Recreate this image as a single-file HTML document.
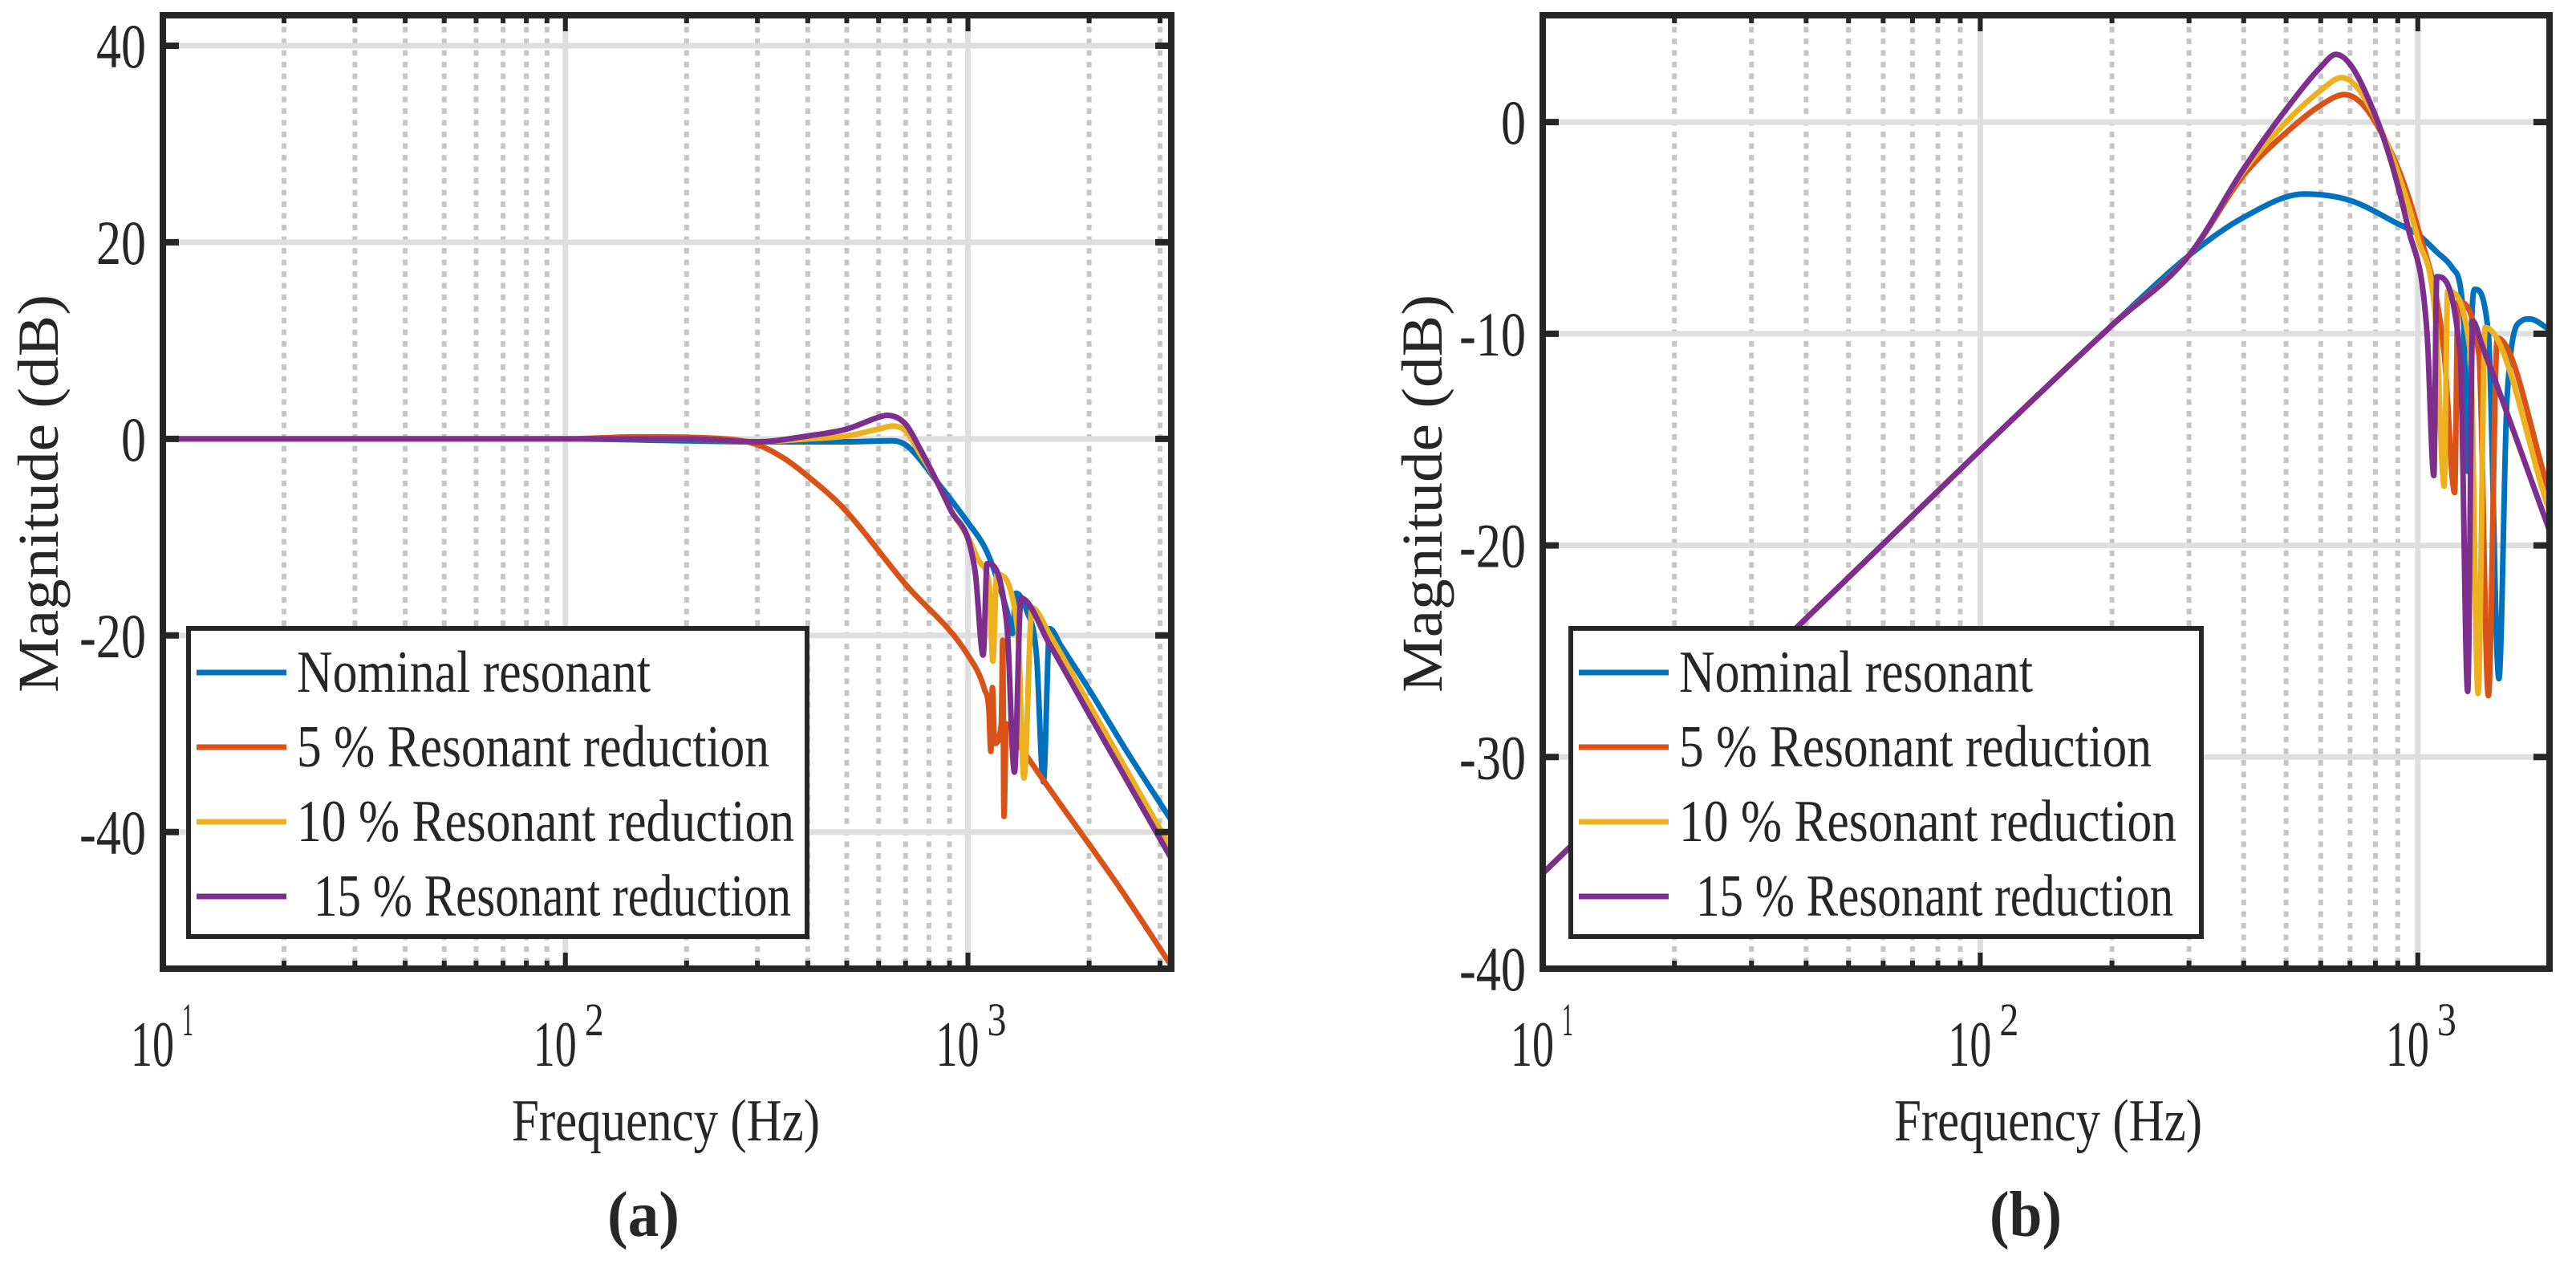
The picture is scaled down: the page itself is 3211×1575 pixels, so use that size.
<!DOCTYPE html>
<html><head><meta charset="utf-8"><style>
html,body{margin:0;padding:0;background:#fff;}
svg{display:block;}
text{font-family:"Liberation Serif",serif;fill:#262626;}
</style></head><body>
<svg id="fig" width="3211" height="1575" viewBox="0 0 3211 1575" xmlns="http://www.w3.org/2000/svg"></svg>
<script>
// ---------- Panel (a) data ----------
const aNomF = [10,100,200,300,500,650,700,750,836,900,1000,1100,1158,1250,1290,1316,1400,1480,1540,1596,1700,2000,2500,3200];
const aNomV = [0,0,-0.2,-0.3,-0.3,-0.2,-0.6,-1.8,-4.3,-6,-8.5,-11,-13.2,-17.5,-19.8,-15.7,-17.5,-22,-34.9,-19.3,-21,-25.5,-32,-38.8];
const aR5F = [10,100,150,250,300,350,400,484,700,1000,1100,1127,1140,1150,1165,1210,1220,1229,1245,1335,2413,3200];
const aR5V = [0,0,0.2,0,-0.6,-2,-3.8,-6.8,-14.8,-22,-25.5,-27.5,-31.8,-25.3,-31,-29,-20.5,-38.4,-29,-31,-46,-53.6];
const aR10F = [10,200,300,400,500,600,650,700,760,836,900,1000,1072,1130,1153,1180,1330,1378,1443,1600,2000,3200];
const aR10V = [0,0,-0.3,0,0.3,1,1.3,0.8,-1.5,-4.3,-7,-10,-12.6,-15,-22.6,-13.8,-19.5,-34.5,-17.2,-20,-27,-41.7];
const aR15F = [10,200,300,400,500,600,630,700,760,836,900,1042,1091,1116,1250,1305,1354,1600,2000,3200];
const aR15V = [0,0,-0.3,0.3,1,2.2,2.4,1.5,-1,-4.3,-7,-13.5,-22,-12.7,-19,-33.9,-16.2,-21,-28,-42.7];
// ---------- Panel (b) data ----------
const bNomF = [10,100,200,300,400,550,700,900,1000,1100,1200,1270,1300,1330,1350,1450,1532,1600,1724,1800,2000];
const bNomV = [-35.5,-15.5,-9.6,-6.3,-4.5,-3.4,-3.7,-4.8,-5.3,-6.1,-6.9,-9,-16.5,-9,-7.9,-10,-26.3,-13,-9.4,-9.3,-9.8];
const bR5F = [10,100,200,300,400,500,600,680,800,1000,1150,1214,1235,1380,1450,1520,2000];
const bR5V = [-35.5,-15.5,-9.6,-6.3,-2.5,-0.5,0.8,1.3,0,-5,-11,-17.5,-8.5,-11,-27.1,-10.2,-17.5];
const bR10F = [10,100,200,300,400,500,600,670,800,1000,1100,1149,1170,1320,1373,1426,2000];
const bR10V = [-35.5,-15.5,-9.6,-6.3,-2.3,0,1.5,2.1,0.2,-5.5,-9.5,-17.2,-8,-11,-27,-9.7,-18.4];
const bR15F = [10,100,200,300,400,500,600,650,800,950,1050,1088,1105,1250,1300,1335,1400,2000];
const bR15V = [-35.5,-15.5,-9.6,-6.3,-2.2,0.6,2.6,3.2,0.3,-5,-10,-16.7,-7.3,-11,-26.9,-9.4,-10.5,-19.3];
const legendLabels = ["Nominal resonant","5 % Resonant reduction","10 % Resonant reduction"," 15 % Resonant reduction"];
const aYTicks = [40,20,0,-20,-40];
const bYTicks = [0,-10,-20,-30,-40];

const colors = ["#0072BD","#D95319","#EDB120","#7E2F8E"];
const NS = "http://www.w3.org/2000/svg";
const fig = document.getElementById('fig');
function mk(tag, attrs, parent){const e=document.createElementNS(NS,tag);for(const k in attrs)e.setAttribute(k,attrs[k]);(parent||fig).appendChild(e);return e;}

// monotone cubic (Fritsch-Carlson) path through screen points
function monoPath(xs, ys){
  const n=xs.length; const d=[], m=[];
  for(let i=0;i<n-1;i++) d.push((ys[i+1]-ys[i])/(xs[i+1]-xs[i]));
  m[0]=d[0]; m[n-1]=d[n-2];
  for(let i=1;i<n-1;i++){ m[i]=(d[i-1]*d[i]<=0)?0:(d[i-1]+d[i])/2; }
  for(let i=0;i<n-1;i++){
    if(d[i]===0){m[i]=0;m[i+1]=0;continue;}
    const a=m[i]/d[i], b=m[i+1]/d[i], s=a*a+b*b;
    if(s>9){const t=3/Math.sqrt(s); m[i]=t*a*d[i]; m[i+1]=t*b*d[i];}
  }
  let p='M'+xs[0].toFixed(1)+','+ys[0].toFixed(1);
  for(let i=0;i<n-1;i++){
    const h=(xs[i+1]-xs[i])/3;
    p+=' C'+(xs[i]+h).toFixed(1)+','+(ys[i]+m[i]*h).toFixed(1)+' '+(xs[i+1]-h).toFixed(1)+','+(ys[i+1]-m[i+1]*h).toFixed(1)+' '+xs[i+1].toFixed(1)+','+ys[i+1].toFixed(1);
  }
  return p;
}

function panel(cfg){
  const g = mk('g',{});
  
  
  const L=cfg.L,R=cfg.R,T=19,B=1207;
  const lx0=Math.log10(cfg.xmin), lx1=Math.log10(cfg.xmax);
  const X=f=>L+(Math.log10(f)-lx0)/(lx1-lx0)*(R-L);
  const Y=v=>B-(v-cfg.ymin)/(cfg.ymax-cfg.ymin)*(B-T);
  const clipId='clip'+cfg.id;
  const defs=mk('defs',{},g);
  const cp=mk('clipPath',{id:clipId},defs);
  mk('rect',{x:L,y:T,width:R-L,height:B-T},cp);
  for(let d=10; d<cfg.xmax; d*=10){
    for(let k=2;k<=9;k++){const f=d*k; if(f>=cfg.xmax) break;
      const l=mk('line',{x1:X(f),x2:X(f),y1:T,y2:B,stroke:'#c6c6c6','stroke-width':6,'stroke-dasharray':'7 7.5'},g);
      
      
    }
  }
  [10,100,1000].forEach(f=>{const l=mk('line',{x1:X(f),x2:X(f),y1:T,y2:B,stroke:'#dedede','stroke-width':7},g);
    
    });
  cfg.yticks.forEach(v=>{const l=mk('line',{x1:L,x2:R,y1:Y(v),y2:Y(v),stroke:'#dedede','stroke-width':7},g);
    
    });
  const sg=mk('g',{'clip-path':'url(#'+clipId+')'},g);
  cfg.series.forEach((s,i)=>{
    const xs=s.f.map(X), ys=s.v.map(Y);
    const p=mk('path',{d:monoPath(xs,ys),fill:'none',stroke:colors[i],'stroke-width':7,'stroke-linejoin':'round','stroke-linecap':'round'},sg);
    
    
  });
  const box=mk('rect',{x:L,y:T,width:R-L,height:B-T,fill:'none',stroke:'#262626','stroke-width':8},g);
  
  
  cfg.yticks.forEach(v=>{
    mk('line',{x1:L,x2:L+20,y1:Y(v),y2:Y(v),stroke:'#262626','stroke-width':8},g);
    mk('line',{x1:R-20,x2:R,y1:Y(v),y2:Y(v),stroke:'#262626','stroke-width':8},g);
    const t=mk('text',{x:L-21,y:Y(v)+27,'text-anchor':'end','font-size':78,textLength:(String(v).length*31-(v<0?10:0)),lengthAdjust:'spacingAndGlyphs'},g);
    t.textContent=String(v);
    
    
  });
  for(let d=10; d<cfg.xmax; d*=10){
    for(let k=1;k<=9;k++){const f=d*k; if(f>cfg.xmax) break;
      const len=k===1?20:10;
      mk('line',{x1:X(f),x2:X(f),y1:B-len,y2:B,stroke:'#262626','stroke-width':6},g);
      mk('line',{x1:X(f),x2:X(f),y1:T,y2:T+len,stroke:'#262626','stroke-width':6},g);
    }
  }
  [[10,'1'],[100,'2'],[1000,'3']].forEach(([f,e])=>{
    const t=mk('text',{x:X(f)-40,y:1328,'font-size':80,textLength:54,lengthAdjust:'spacingAndGlyphs'},g);
    t.textContent='10';
    
    
    const s=mk('text',{x:X(f)+24,y:1290,'font-size':58,textLength:(e==='1'?14:24),lengthAdjust:'spacingAndGlyphs'},g);
    s.textContent=e;
    
    
  });
  const yl=mk('text',{x:0,y:0,'font-size':72,'text-anchor':'middle',textLength:496,lengthAdjust:'spacingAndGlyphs',transform:'translate('+cfg.ylx+',615) rotate(-90)'},g);
  yl.textContent='Magnitude (dB)';
  
  
  const xl=mk('text',{x:cfg.xlx,y:1421,'font-size':74,'text-anchor':'middle',textLength:384,lengthAdjust:'spacingAndGlyphs'},g);
  xl.textContent='Frequency (Hz)';
  
  
  const cap=mk('text',{x:cfg.capx,y:1540,'font-size':80,'font-weight':'bold','text-anchor':'middle',textLength:90,lengthAdjust:'spacingAndGlyphs'},g);
  cap.textContent=cfg.cap;
  
  
  const lg=mk('g',{},g);
  
  
  mk('rect',{x:cfg.legL,y:783,width:cfg.legW,height:384,fill:'#fff',stroke:'#262626','stroke-width':6},lg);
  const widths=[441,589,620,616];
  legendLabels.forEach((lab,i)=>{
    const cy=838+i*93;
    const ln=mk('line',{x1:cfg.legL+10,x2:cfg.legL+122,y1:cy,y2:cy,stroke:colors[i],'stroke-width':7},lg);
    
    
    const tx=mk('text',{x:cfg.legL+135+(i===3?21:0),y:cy+24,'font-size':74,textLength:widths[i]-(i===3?21:0),lengthAdjust:'spacingAndGlyphs',fill:'#000'},lg);
    tx.textContent=lab.trim();
    
    
  });
}

panel({id:'a',name:'panel-a',L:203,R:1460,xmin:10,xmax:3200,ymin:-53.9,ymax:43.1,yticks:aYTicks,ylx:72,xlx:830,capx:802,cap:'(a)',legL:235,legW:771,
  series:[{key:'nominal',f:aNomF,v:aNomV},{key:'5pct',f:aR5F,v:aR5V},{key:'10pct',f:aR10F,v:aR10V},{key:'15pct',f:aR15F,v:aR15V}]});
panel({id:'b',name:'panel-b',L:1923,R:3178,xmin:10,xmax:2000,ymin:-40,ymax:5.05,yticks:bYTicks,ylx:1797,xlx:2553,capx:2525,cap:'(b)',legL:1958,legW:786,
  series:[{key:'nominal',f:bNomF,v:bNomV},{key:'5pct',f:bR5F,v:bR5V},{key:'10pct',f:bR10F,v:bR10V},{key:'15pct',f:bR15F,v:bR15V}]});
</script>
</body></html>
